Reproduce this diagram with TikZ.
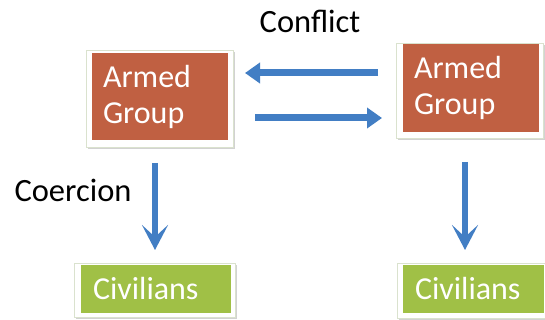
\documentclass[tikz,border=0pt]{standalone}
\usepackage{fontspec}
\setmainfont{Carlito}
\usetikzlibrary{arrows.meta,shadows}
\definecolor{armedfill}{RGB}{192,96,66}
\definecolor{civfill}{RGB}{160,192,70}
\definecolor{arrowblue}{RGB}{66,126,196}
\definecolor{frameline}{RGB}{218,226,206}
\tikzset{
  frame/.style={draw=frameline, line width=0.8pt, fill=white,
    drop shadow={shadow xshift=1.5pt, shadow yshift=-2pt, opacity=0.35, fill=gray}},
  armedbox/.style={fill=armedfill, text=white, minimum width=136pt, minimum height=87pt,
    inner xsep=11pt, inner ysep=0pt, text width=114pt, align=left,
    font=\fontsize{32}{36}\selectfont},
  civbox/.style={fill=civfill, text=white, minimum height=48pt,
    inner xsep=12pt, inner ysep=0pt, align=left,
    font=\fontsize{32}{36}\selectfont},
  lbl/.style={text=black, font=\fontsize{32.5}{36}\selectfont, inner sep=0pt},
  harrow/.style={draw=arrowblue, line width=7pt, -{Triangle[length=15pt,width=20pt]}},
  varrow/.style={draw=arrowblue, line width=6.5pt, -{Stealth[length=25pt,width=26pt,inset=12pt]}}
}
\begin{document}
\begin{tikzpicture}[x=1pt,y=-1pt]
\useasboundingbox (0,0) rectangle (545,320);
% outer frames
\fill[white] (0,0) rectangle (545,320);
\node[frame, minimum width=147pt, minimum height=97pt, anchor=north west, inner sep=0pt] (frameAL) at (86,50) {};
\node[frame, minimum width=147pt, minimum height=95pt, anchor=north west, inner sep=0pt] (frameAR) at (396,43) {};
\node[frame, minimum width=161pt, minimum height=54pt, anchor=north west, inner sep=0pt] (frameCL) at (74,263) {};
\node[frame, minimum width=150pt, minimum height=55pt, anchor=north west, inner sep=0pt] (frameCR) at (397,263) {};
% colored boxes
\node[armedbox] (armedL) at (160,96.5) {Armed\\Group};
\node[armedbox, minimum height=88pt] (armedR) at (471,88) {Armed\\Group};
\node[civbox, minimum width=150pt, text width=126pt] (civL) at (156,289) {Civilians};
\node[civbox, minimum width=141pt, text width=117pt] (civR) at (473.5,289) {Civilians};
% labels
\node[lbl] (conflict) at (310,21) {Conflict};
\node[lbl] (coercion) at (73,190) {Coercion};
% connector end points
\coordinate (c1s) at (378,73);
\coordinate (c1e) at (245,73);
\coordinate (c2s) at (255,118);
\coordinate (c2e) at (382,118);
\coordinate (d1s) at (155,163);
\coordinate (d1e) at (155,250);
\coordinate (d2s) at (465,162);
\coordinate (d2e) at (465,250);
\draw[harrow] (c1s) -- (c1e);
\draw[harrow] (c2s) -- (c2e);
\draw[varrow] (d1s) -- (d1e);
\draw[varrow] (d2s) -- (d2e);
\end{tikzpicture}
\end{document}
